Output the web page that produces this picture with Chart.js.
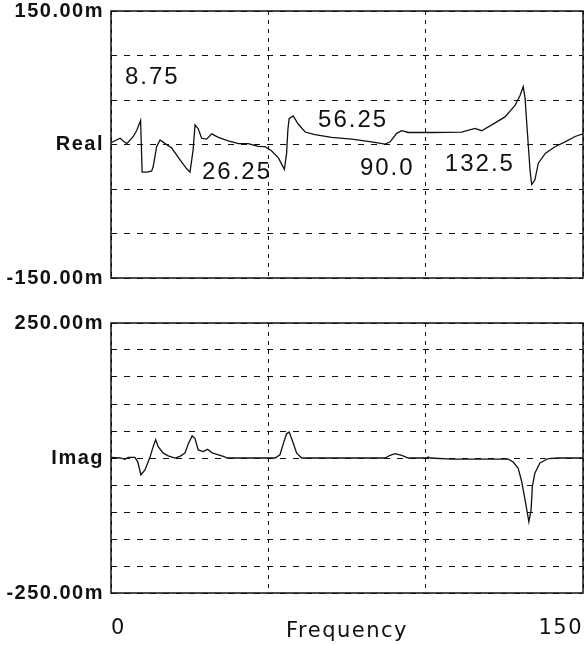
<!DOCTYPE html>
<html>
<head>
<meta charset="utf-8">
<script src="https://cdn.jsdelivr.net/npm/chart.js@4"></script>
<style>
  html, body { margin: 0; padding: 0; background: #fff; }
  #wrap { position: relative; width: 586px; height: 645px; overflow: hidden; }
  .panel { position: absolute; left: 0; width: 586px; }
  #realBox { top: 0; height: 300px; }
  #imagBox { top: 300px; height: 345px; }
</style>
</head>
<body>
<div id="wrap">
  <div class="panel" id="realBox"><canvas id="realChart"></canvas></div>
  <div class="panel" id="imagBox"><canvas id="imagChart"></canvas></div>
</div>
<script>
// Frequency response, real part (units: m)
const realFreq = [0, 2.9, 3.9, 5.0, 7.1, 8.2, 9.4, 9.9, 11.3, 12.9, 13.4, 14.5, 15.6, 17.2, 19.3, 21.9, 24.0, 25.1,
  26.1, 26.7, 27.7, 28.8, 30.4, 32.0, 34.1, 37.3, 40.5, 43.6, 46.8, 48.9, 51.0, 53.2, 55.1, 55.8, 56.2, 56.6,
  57.9, 59.5, 61.7, 64.8, 70.1, 76.5, 82.8, 87.1, 88.7, 90.8, 92.4, 94.5, 97.7, 101.9, 111.4, 115.7, 117.8,
  121.0, 125.2, 128.4, 130.0, 131.0, 131.6, 132.0, 133.2, 133.7, 134.7, 135.8, 138.0, 141.1, 144.3, 147.5, 150];
const realVals = [2, 7, 4, 1, 9, 16, 27, -31, -31, -30, -25, -2.5, 5, 1, -4, -17, -27, -31,
  -6, 22, 18, 7, 6, 12, 8, 4, 1, 1, -2, -2.5, -7, -15, -28, -10, 16, 29,
  32, 23, 14, 11, 8, 6, 3, 0.5, 3, 12.5, 15.5, 13.5, 13.5, 13.5, 14, 18, 15.5,
  22, 31, 44, 55, 65, 52, 30, -30, -45, -40, -21, -10, -2.5, 3, 9, 12];

// Frequency response, imaginary part (units: m)
const imagFreq = [0, 2.9, 4.4, 5.5, 7.6, 8.5, 9.5, 10.8, 12.4, 13.4, 14.2, 15.0, 16.6, 18.2, 20.3, 21.9, 23.5,
  24.6, 25.8, 26.7, 27.7, 29.3, 30.7, 32.0, 34.1, 35.7, 37.0, 52.1, 53.7, 54.8, 55.8, 56.6, 57.6, 59.0, 60.6,
  87.1, 88.7, 90.3, 92.4, 94.5, 100.3, 100.8, 101.5, 108.3, 126.3, 127.9, 129.4, 130.5, 131.6, 132.8, 133.5,
  133.9, 134.7, 136.3, 139.0, 142.2, 150];
const imagVals = [1, 0, -2.5, 1, 1, -7, -31, -22, 2, 21, 34, 21, 9, 4, 0, 3, 9,
  27, 41, 36, 15, 12, 16, 10, 6, 3, 0, 0, 6, 27, 45, 48, 33, 9, 0,
  0, 5, 8, 5, 0, 0, 2, 0, -2, -2, -8, -19, -43, -78, -118, -96,
  -53, -28, -9, -1, 0, 0];

// Axis ranges and tick labels
const freqRange = [0, 150];
const freqTickValues = [0, 150];
const freqTickLabels = ['0', '150'];
const realRange = [-150, 150];
const realTickValues = [150, 0, -150];
const realTickLabels = ['150.00m', 'Real', '-150.00m'];
const imagRange = [-250, 250];
const imagTickValues = [250, 0, -250];
const imagTickLabels = ['250.00m', 'Imag', '-250.00m'];

// Resonance frequency markers written inside the real-part panel: text, frequency, level
const markerTexts = ['8.75', '26.25', '56.25', '90.0', '132.5'];
const markerFreq = [4.45, 28.9, 65.8, 79.1, 106.1];
const markerLevel = [75.8, -30.9, 27.5, -26.4, -21.9];

const toPoints = (xs, ys) => xs.map((x, i) => ({ x: x, y: ys[i] }));

const labelFor = (values, labels) => (v) => {
  const i = values.indexOf(v);
  return i >= 0 ? labels[i] : '';
};

// Solid frame round the plotting area
const framePlugin = {
  id: 'frame',
  beforeDraw(chart) {
    chart.ctx.letterSpacing = '1.5px';
  },
  beforeDatasetsDraw(chart) {
    const { ctx, chartArea: a } = chart;
    ctx.save();
    ctx.setLineDash([]);
    ctx.strokeStyle = '#111';
    ctx.lineWidth = 1.5;
    ctx.strokeRect(a.left, a.top, a.right - a.left, a.bottom - a.top);
    ctx.restore();
  }
};

// Frequency marker text placed through the chart scales
const markerPlugin = {
  id: 'markers',
  afterDatasetsDraw(chart) {
    const { ctx, scales } = chart;
    ctx.save();
    ctx.letterSpacing = '2px';
    ctx.font = '24px "Liberation Sans", Arial, sans-serif';
    ctx.fillStyle = '#111';
    ctx.textAlign = 'left';
    ctx.textBaseline = 'middle';
    markerTexts.forEach((t, i) => {
      ctx.fillText(t, scales.x.getPixelForValue(markerFreq[i]), scales.y.getPixelForValue(markerLevel[i]));
    });
    ctx.restore();
  }
};

function makeChart(canvasId, freq, vals, yRange, yStep, yTickValues, yTickLabels, isBottom, extraPlugins) {
  return new Chart(document.getElementById(canvasId), {
    type: 'line',
    data: {
      datasets: [{
        data: toPoints(freq, vals),
        borderColor: '#111',
        borderWidth: 1.3,
        pointRadius: 0,
        tension: 0,
        fill: false
      }]
    },
    options: {
      responsive: true,
      maintainAspectRatio: false,
      animation: false,
      layout: { padding: { top: isBottom ? 23 : 11, right: 3, bottom: isBottom ? 0 : 22, left: 0 } },
      plugins: { legend: { display: false }, tooltip: { enabled: false } },
      scales: {
        x: {
          type: 'linear',
          min: freqRange[0],
          max: freqRange[1],
          afterBuildTicks(scale) {
            scale.ticks = [0, 50, 100, 150].map(v => ({ value: v }));
          },
          afterFit(scale) {
            scale.height = isBottom ? 52 : 0;
            scale.paddingLeft = 0;
            scale.paddingRight = 0;
          },
          grid: { color: '#111', lineWidth: 1, drawTicks: false, borderDash: [4, 5] },
          border: { display: false, dash: [4, 5] },
          ticks: {
            display: isBottom,
            autoSkip: false,
            maxRotation: 0,
            align: 'inner',
            padding: 23,
            color: '#111',
            font: { family: '"DejaVu Sans", sans-serif', size: 21 },
            callback: labelFor(freqTickValues, freqTickLabels)
          },
          title: {
            display: isBottom,
            text: 'Frequency',
            color: '#111',
            padding: { top: 0, bottom: 1 },
            font: { family: '"DejaVu Sans", sans-serif', size: 21 }
          }
        },
        y: {
          type: 'linear',
          min: yRange[0],
          max: yRange[1],
          afterBuildTicks(scale) {
            const t = [];
            for (let v = yRange[0]; v <= yRange[1]; v += yStep) t.push({ value: v });
            scale.ticks = t;
          },
          afterFit(scale) {
            scale.width = 111;
            scale.paddingTop = 0;
            scale.paddingBottom = 0;
          },
          grid: { color: '#111', lineWidth: 1, drawTicks: false, borderDash: [6, 7] },
          border: { display: false, dash: [6, 7] },
          ticks: {
            autoSkip: false,
            padding: 7,
            color: '#111',
            font: { family: '"Liberation Sans", Arial, sans-serif', size: 20, weight: 'bold' },
            callback: labelFor(yTickValues, yTickLabels)
          }
        }
      }
    },
    plugins: [framePlugin].concat(extraPlugins)
  });
}

makeChart('realChart', realFreq, realVals, realRange, 50, realTickValues, realTickLabels, false, [markerPlugin]);
makeChart('imagChart', imagFreq, imagVals, imagRange, 50, imagTickValues, imagTickLabels, true, []);
</script>
</body>
</html>
